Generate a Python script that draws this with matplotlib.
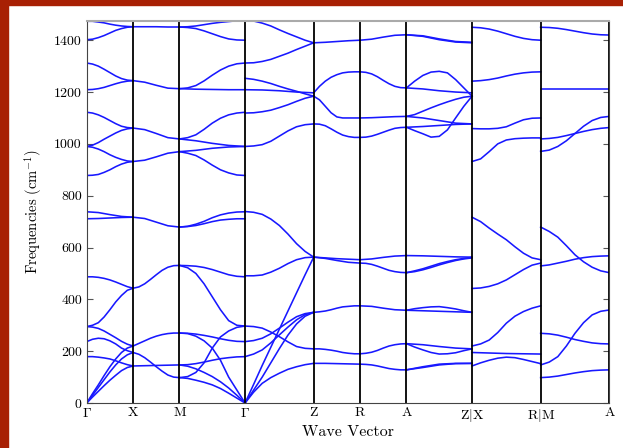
import numpy as np
import matplotlib.pyplot as plt
from matplotlib.patches import Rectangle

plt.rcParams['font.family'] = 'serif'
plt.rcParams['font.serif'] = ['cmr10']
plt.rcParams['mathtext.fontset'] = 'cm'
plt.rcParams['axes.formatter.use_mathtext'] = True

# positions of the high symmetry points along the path
kpoints = [0, 1, 2, 3.414, 4.894, 5.894, 6.894, 8.308, 9.788, 11.268]
klabels = [r'$\Gamma$', 'X', 'M', r'$\Gamma$', 'Z', 'R', 'A', r'Z$|$X', r'R$|$M', 'A']
yticks = [0, 200, 400, 600, 800, 1000, 1200, 1400]

# phonon branches (cm^-1) read per segment, evenly spaced along each segment
gx = [
    [1473, 1473, 1470, 1467, 1462, 1458, 1455, 1453, 1452],
    [1402, 1404, 1410, 1418, 1428, 1438, 1445, 1450, 1452],
    [1312, 1308, 1300, 1288, 1275, 1262, 1252, 1246, 1244],
    [1209, 1210, 1213, 1218, 1225, 1232, 1238, 1242, 1244],
    [1122, 1119, 1112, 1102, 1090, 1078, 1068, 1063, 1061],
    [990, 995, 1005, 1018, 1030, 1042, 1052, 1058, 1061],
    [990, 987, 980, 970, 958, 948, 940, 934, 932],
    [878, 879, 882, 890, 900, 912, 922, 929, 932],
    [738, 735, 727, 720, 717], [711, 712, 714, 716, 717],
    [487, 487, 485, 481, 475, 467, 458, 449, 443],
    [295, 300, 310, 332, 360, 390, 415, 435, 443],
    [295, 293, 288, 278, 265, 252, 238, 227, 220],
    [237, 246, 250, 248, 240, 228, 212, 202, 195],
    [179, 179, 177, 174, 170, 163, 155, 148, 143],
    [0, 36, 70, 106, 140, 170, 195, 212, 220],
    [0, 30, 60, 90, 120, 147, 170, 186, 195],
    [0, 23, 45, 67, 88, 107, 125, 137, 143],
]
xm = [
    [1452, 1452, 1452, 1451, 1451], [1244, 1238, 1226, 1215, 1213],
    [1061, 1055, 1040, 1024, 1019], [932, 937, 950, 964, 970],
    [717, 712, 698, 684, 679],
    [443, 448, 460, 477, 495, 512, 524, 530, 531],
    [220, 230, 240, 250, 258, 264, 268, 270, 270],
    [195, 188, 175, 158, 140, 123, 108, 100, 98],
    [143, 144, 145, 146, 147],
]
mg = [
    [1451, 1452, 1455, 1460, 1465, 1469, 1472, 1475, 1476],
    [1451, 1449, 1445, 1436, 1425, 1414, 1405, 1401, 1400],
    [1213, 1216, 1225, 1243, 1265, 1285, 1300, 1309, 1312],
    [1213, 1211, 1210, 1209, 1209],
    [1019, 1024, 1035, 1056, 1080, 1099, 1112, 1119, 1122],
    [1019, 1012, 1002, 994, 990], [970, 975, 983, 988, 990],
    [970, 964, 955, 938, 918, 900, 888, 880, 878],
    [679, 682, 690, 701, 715, 726, 733, 737, 738],
    [679, 681, 685, 692, 700, 706, 709, 711, 711],
    [531, 530, 528, 523, 515, 505, 495, 489, 487],
    [531, 522, 500, 460, 410, 360, 318, 300, 297],
    [270, 269, 266, 261, 255, 248, 242, 238, 237],
    [270, 268, 258, 240, 212, 165, 100, 50, 0],
    [98, 102, 118, 155, 212, 255, 278, 292, 297],
    [147, 148, 152, 158, 165, 171, 175, 178, 179],
    [98, 95, 88, 80, 70, 56, 38, 19, 0],
    [147, 142, 132, 118, 102, 82, 58, 30, 0],
]
gz = [
    [1476, 1474, 1466, 1455, 1440, 1426, 1413, 1400, 1390],
    [1312, 1313, 1318, 1326, 1338, 1350, 1364, 1377, 1390],
    [1253, 1249, 1242, 1233, 1222, 1212, 1203, 1193, 1184],
    [1209, 1208, 1205, 1200, 1197],
    [1119, 1120, 1124, 1130, 1140, 1151, 1164, 1176, 1184],
    [990, 992, 997, 1010, 1030, 1050, 1066, 1074, 1077],
    [739, 736, 728, 710, 685, 652, 615, 585, 563],
    [491, 491, 494, 505, 520, 538, 553, 561, 563],
    [0, 72, 145, 215, 285, 355, 425, 495, 563],
    [297, 295, 289, 274, 256, 236, 218, 211, 209],
    [237, 241, 250, 267, 289, 312, 333, 345, 350],
    [179, 189, 205, 232, 263, 293, 321, 341, 350],
    [0, 50, 100, 155, 210, 262, 305, 335, 350],
    [0, 42, 76, 98, 115, 130, 140, 148, 153],
]
zr = [
    [1390, 1392, 1395, 1398, 1400],
    [1197, 1222, 1242, 1257, 1267, 1274, 1277, 1278, 1278],
    [1184, 1170, 1145, 1120, 1104, 1100, 1100, 1100, 1100],
    [1077, 1076, 1070, 1058, 1045, 1034, 1028, 1025, 1025],
    [563, 560, 557, 555, 553], [563, 558, 550, 543, 540],
    [350, 352, 355, 360, 366, 371, 373, 375, 375],
    [209, 209, 207, 204, 200, 195, 192, 190, 190],
    [153, 153, 152, 151, 150],
]
ra = [
    [1400, 1404, 1412, 1419, 1421],
    [1278, 1276, 1270, 1259, 1245, 1232, 1222, 1217, 1216],
    [1100, 1101, 1103, 1105, 1106],
    [1025, 1026, 1030, 1037, 1045, 1053, 1060, 1063, 1064],
    [553, 556, 562, 567, 569],
    [540, 539, 535, 528, 520, 512, 507, 504, 503],
    [375, 373, 366, 360, 358],
    [190, 192, 196, 203, 212, 220, 225, 228, 229],
    [150, 149, 147, 143, 138, 133, 130, 128, 128],
]
az = [
    [1421, 1415, 1402, 1393, 1390], [1421, 1417, 1405, 1395, 1392],
    [1216, 1242, 1264, 1277, 1280, 1274, 1248, 1216, 1184],
    [1216, 1212, 1205, 1200, 1197],
    [1106, 1113, 1126, 1139, 1151, 1162, 1172, 1180, 1184],
    [1106, 1100, 1090, 1080, 1077], [1064, 1067, 1071, 1075, 1077],
    [1064, 1051, 1039, 1026, 1029, 1054, 1100, 1145, 1184],
    [569, 568, 566, 564, 563],
    [503, 507, 514, 523, 533, 542, 550, 556, 560],
    [503, 510, 518, 528, 538, 546, 553, 558, 562],
    [358, 364, 368, 371, 372, 368, 363, 356, 350],
    [358, 356, 354, 352, 350],
    [229, 225, 218, 212, 209],
    [229, 216, 205, 195, 189, 190, 194, 202, 209],
    [128, 137, 147, 152, 153], [128, 140, 150, 153, 153],
]
xr = [
    [1450, 1448, 1443, 1435, 1425, 1415, 1407, 1402, 1400],
    [1242, 1244, 1248, 1254, 1262, 1269, 1274, 1277, 1278],
    [1059, 1058, 1058, 1060, 1066, 1080, 1093, 1099, 1100],
    [932, 942, 970, 1000, 1015, 1020, 1022, 1023, 1023],
    [717, 700, 675, 652, 630, 603, 578, 560, 553],
    [442, 444, 450, 460, 475, 495, 515, 532, 540],
    [220, 228, 243, 272, 308, 335, 353, 366, 375],
    [195, 193, 191, 190, 189],
    [143, 155, 165, 173, 177, 175, 168, 160, 152],
]
ma = [
    [1450, 1449, 1446, 1441, 1435, 1429, 1424, 1421, 1420],
    [1213, 1213, 1213, 1213, 1213],
    [1019, 1021, 1025, 1032, 1040, 1048, 1055, 1060, 1063],
    [971, 976, 990, 1012, 1040, 1068, 1090, 1102, 1106],
    [679, 662, 640, 607, 572, 545, 524, 510, 503],
    [529, 533, 540, 547, 555, 561, 565, 567, 568],
    [269, 267, 262, 254, 245, 238, 232, 229, 228],
    [147, 158, 179, 220, 269, 310, 340, 354, 359],
    [98, 100, 104, 110, 116, 121, 125, 127, 128],
]
segments = [gx, xm, mg, gz, zr, ra, az, xr, ma]

fig = plt.figure(figsize=(6.23, 4.48), dpi=100)
ax = fig.add_axes([0.1392, 0.1004, 0.8388, 0.8538])

for i, seg in enumerate(segments):
    k0, k1 = kpoints[i], kpoints[i + 1]
    for vals in seg:
        ax.plot(np.linspace(k0, k1, len(vals)), vals, color='#1818ff', lw=1.15)

for k in kpoints:
    ax.axvline(k, color='k', lw=1.3)

ax.set_xlim(kpoints[0], kpoints[-1])
ax.set_ylim(0, 1476)
ax.set_xticks(kpoints)
ax.set_xticklabels(klabels, fontsize=10)
ax.set_yticks(yticks)
ax.set_yticklabels([str(v) for v in yticks], fontsize=10)
ax.tick_params(axis='x', length=0, pad=3)
ax.tick_params(axis='y', direction='in', length=4, right=True, color='#555555')
for side in ['left', 'right', 'bottom']:
    ax.spines[side].set_color('#444444')
ax.spines['top'].set_color('#aaaaaa')
ax.spines['top'].set_linewidth(1.5)

ax.set_xlabel('Wave Vector', fontsize=11.5, labelpad=1)
ax.set_ylabel(r'Frequencies (cm$^{-1}$)', fontsize=10.5, labelpad=7)

# dark red strips on the top and left edges
fig.patches.append(Rectangle((0, 0), 8 / 623, 1, transform=fig.transFigure,
                             color='#a82004', zorder=5))
fig.patches.append(Rectangle((0, 1 - 5 / 448), 1, 5 / 448, transform=fig.transFigure,
                             color='#a82004', zorder=5))

fig.savefig('out.png', dpi=100)
